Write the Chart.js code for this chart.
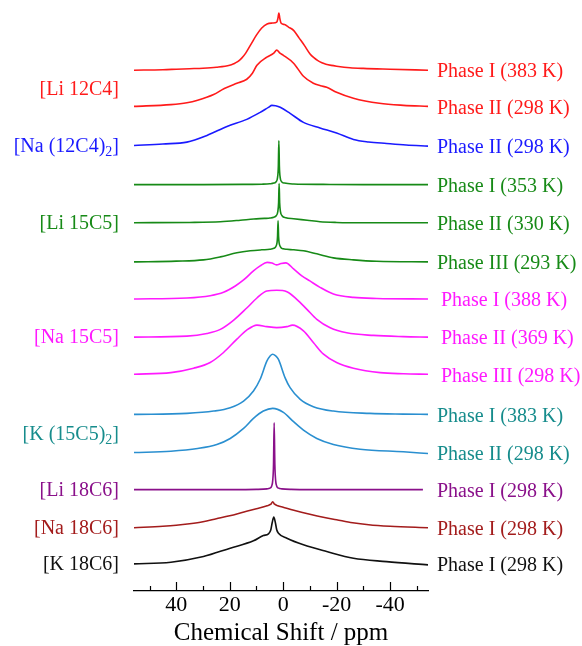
<!DOCTYPE html>
<html>
<head>
<meta charset="utf-8">
<script src="https://cdn.jsdelivr.net/npm/chart.js@4.4.1/dist/chart.umd.min.js"></script>
<style>
  body { margin: 0; background: #fff; }
</style>
</head>
<body>
<canvas id="nmrChart" width="582" height="646"></canvas>
<script>
// x axis ticks (ppm), labels only on multiples of 20
const tickValues = [50, 40, 30, 20, 10, 0, -10, -20, -30, -40, -50];

// sample groups (left labels) and spectra (right labels)
const groupNames = ['[Li 12C4]', '[Na (12C4)_2]', '[Li 15C5]', '[Na 15C5]', '[K (15C5)_2]', '[Li 18C6]', '[Na 18C6]', '[K 18C6]'];
const traceLabels = [
    'Phase I (383 K)', 'Phase II (298 K)',
    'Phase II (298 K)',
    'Phase I (353 K)', 'Phase II (330 K)', 'Phase III (293 K)',
    'Phase I (388 K)', 'Phase II (369 K)', 'Phase III (298 K)',
    'Phase I (383 K)', 'Phase II (298 K)',
    'Phase I (298 K)',
    'Phase I (298 K)',
    'Phase I (298 K)'
];
const traceGroup = [0, 0, 1, 2, 2, 2, 3, 3, 3, 4, 4, 5, 6, 7];
// vertical stacking offset of each spectrum
const offsets = [519, 483, 444, 405, 367, 328, 291, 253, 216, 176, 138, 101, 63, 27];

// spectra: chemical shift (ppm) and intensity
const li12c4_I_ppm = [55.8, 45, 40, 35, 30, 25, 20, 18.5, 17, 15.5, 14, 12, 10, 8, 6, 4, 2.4, 2.0, 1.6, 1.2, 0.8, -0.5, -2, -4, -6, -8, -10, -11.5, -13, -14.5, -16, -18, -20, -25, -30, -40, -54.2];
const li12c4_I_int = [0, 0.5, 1, 1.5, 2, 3, 5, 6.5, 8.5, 12, 17, 26, 35, 42, 46, 47, 48, 51, 57, 51, 47, 45.5, 43, 39.5, 32, 24.5, 16.5, 12.5, 9.5, 7.5, 6, 4.8, 4, 2.5, 1.8, 1, 0];

const li12c4_II_ppm = [55.8, 42, 36, 32, 26, 22, 17.3, 13.6, 11.5, 9.8, 6.1, 3.5, 2.4, 1.2, 0, -3.9, -7.6, -11.3, -14, -16.3, -20, -26.3, -36, -45, -54.2];
const li12c4_II_int = [0, 1.7, 3.5, 6, 11.7, 17.7, 23, 27, 33, 41, 49, 53, 56, 53, 51, 43, 30, 23, 20.5, 19, 14, 8, 3, 1, 0];

const na12c4_II_ppm = [55.8, 45, 36, 28.5, 21, 13.6, 8.6, 5.5, 4.2, 2.8, 1.1, -2.6, -7.6, -13.8, -20, -26.3, -32, -38.7, -46, -54.2];
const na12c4_II_int = [0, 1.5, 3.3, 10, 19, 26, 33, 38, 40, 39.5, 38, 32, 23, 17.5, 12.5, 6, 3.5, 2, 0.5, -0.7];

const li15c5_I_ppm = [55.8, 30, 15, 8, 5, 3.5, 2.6, 2.1, 1.8, 1.6, 1.4, 1.1, 0.6, -0.5, -4, -15, -30, -54.2];
const li15c5_I_int = [0, 0, 0.2, 0.4, 0.8, 1.5, 3, 7, 18, 44, 18, 7, 3, 1.5, 0.6, 0.2, 0, 0];

const li15c5_II_ppm = [55.8, 35, 23.5, 16, 11, 7, 4.9, 3.5, 2.6, 2.0, 1.7, 1.5, 1.3, 1.0, 0.4, -1, -3.9, -9, -13.8, -20, -30, -54.2];
const li15c5_II_int = [0, 0.3, 1, 2.5, 3.7, 4.3, 4.7, 5.5, 7, 11, 20, 39, 20, 11, 7, 5, 4, 2.5, 1, 0.3, 0, 0];

const li15c5_III_ppm = [55.8, 40, 29.8, 23.5, 17.3, 12.3, 8, 5, 3.5, 2.8, 2.3, 2.1, 1.9, 1.7, 1.5, 1.0, 0, -1.4, -4, -7.6, -12.6, -18.8, -26.3, -35, -54.2];
const li15c5_III_int = [0, 0.7, 2, 5, 9, 11, 12, 12.5, 13.5, 15, 19, 25, 41, 25, 19, 15, 13, 12.5, 12, 11, 8, 4, 2, 0.6, 0];

const na15c5_I_ppm = [55.8, 36, 27.3, 22.3, 17.9, 14.8, 11.1, 8.6, 6, 4.2, 2.5, 0.8, -1, -3.9, -7, -10, -13.8, -18.8, -26.3, -35, -54.2];
const na15c5_I_int = [0, 1, 3.3, 6.7, 13, 19, 28, 33, 36.5, 35.8, 34, 35.3, 36, 30, 23, 18, 11.6, 5, 1.6, 0.5, 0];

const na15c5_II_ppm = [55.8, 36, 28.5, 23.5, 18.6, 13.6, 9.8, 6.1, 2.4, -1.4, -5.1, -8.9, -12.6, -17.6, -23.8, -33.8, -45, -54.2];
const na15c5_II_int = [0, 1, 3.7, 7.7, 16.7, 29, 39, 46, 46.7, 45.3, 37.7, 27.7, 17.7, 9.3, 4.3, 1.7, 0.5, 0];

const na15c5_III_ppm = [55.8, 42, 33.5, 27.3, 22.3, 17.3, 13.6, 9.8, 6.1, 2.4, -1.4, -3.5, -7.6, -11.3, -15.1, -20, -26.3, -36.3, -45, -54.2];
const na15c5_III_int = [0, 1.6, 6, 11.7, 21.7, 35, 44, 49, 47.5, 46.5, 47.5, 49, 43.3, 31.7, 20, 11.7, 6, 1.6, 0.5, 0];

const k15c5_I_ppm = [55.8, 36, 26, 19.8, 14.8, 11.1, 8.6, 6.1, 4.8, 3.9, 2.9, 1.8, -0.7, -2.6, -6.4, -11.3, -18.8, -32.5, -45, -54.2];
const k15c5_I_int = [0, 1, 3.3, 6.7, 13.3, 23.3, 35, 53, 58.5, 60, 58.5, 55, 36.7, 26.7, 15, 7.7, 3.3, 1, 0.3, 0];

const k15c5_II_ppm = [55.8, 42, 32, 24.8, 19.8, 14.8, 11.1, 7.4, 3.9, -0.1, -3.9, -7.6, -12.6, -18.8, -28.8, -45, -54.2];
const k15c5_II_int = [0, 1.3, 4, 8, 14, 24, 34, 41.3, 44, 40, 30.7, 22.3, 14, 8, 3.3, 0.7, -1];

const li18c6_ppm = [55.8, 30, 10, 6, 5, 4.3, 3.9, 3.6, 3.36, 3.1, 2.8, 2.4, 1.7, 0.5, -3, -20, -52.3];
const li18c6_int = [0, 0, 0.3, 0.8, 1.5, 3.5, 9, 25, 66.6, 25, 9, 3.5, 1.5, 0.8, 0.3, 0, 0];

const na18c6_ppm = [55.8, 45, 40, 35, 30, 25, 20, 15, 10, 6, 4.6, 3.9, 3.2, 2, 0, -4, -10, -15, -20, -26, -32, -40, -54.2];
const na18c6_int = [0, 1.5, 2.5, 4, 6, 9, 12, 15.5, 19, 22, 23.5, 26, 23.5, 22, 20.5, 17.5, 13.5, 10.5, 8, 5, 3, 1.5, 0];

const k18c6_ppm = [55.8, 42, 29.8, 19.8, 11.1, 7.4, 5.5, 4.6, 4.1, 3.5, 2.9, 2.4, 1.75, -1.4, -7.6, -16.3, -26.3, -38.7, -54.2];
const k18c6_int = [0, 1.7, 7.3, 15.7, 23, 28.3, 30, 34, 41, 46.6, 41, 34, 30.6, 25.6, 19, 12.3, 5.6, 2.3, -1];

const spectra = [
    [li12c4_I_ppm, li12c4_I_int], [li12c4_II_ppm, li12c4_II_int],
    [na12c4_II_ppm, na12c4_II_int],
    [li15c5_I_ppm, li15c5_I_int], [li15c5_II_ppm, li15c5_II_int], [li15c5_III_ppm, li15c5_III_int],
    [na15c5_I_ppm, na15c5_I_int], [na15c5_II_ppm, na15c5_II_int], [na15c5_III_ppm, na15c5_III_int],
    [k15c5_I_ppm, k15c5_I_int], [k15c5_II_ppm, k15c5_II_int],
    [li18c6_ppm, li18c6_int],
    [na18c6_ppm, na18c6_int],
    [k18c6_ppm, k18c6_int]
];

// colours per group: line colour, label colour
const lineColors = ['#ff1a1a', '#1a1aff', '#178a17', '#ff1aff', '#2a8fd0', '#8a108a', '#a31c1c', '#111111'];
const textColors = ['#ff1a1a', '#1a1aff', '#178a17', '#ff1aff', '#168c8c', '#8a108a', '#a31c1c', '#111111'];
const rightIndent = [0, 0, 0, 4, 0, 0, 0, 0];

const serif = "'Liberation Serif', 'Times New Roman', serif";

let datasets = spectra.map(function(s, i) {
    let ppm = s[0], inten = s[1];
    return {
        label: traceLabels[i],
        data: ppm.map((p, k) => ({ x: p, y: offsets[i] + inten[k] })),
        borderColor: lineColors[traceGroup[i]],
        borderWidth: 1.6,
        pointRadius: 0,
        cubicInterpolationMode: 'monotone',
        fill: false
    };
});

// draw text with "_x" as subscript, right aligned at x
function drawSubText(ctx, str, x, y, size) {
    let parts = str.split(/_(\d)/);
    let widths = parts.map((p, i) => {
        ctx.font = (i % 2 ? size * 0.7 : size) + 'px ' + serif;
        return ctx.measureText(p).width;
    });
    let total = widths.reduce((a, b) => a + b, 0);
    let cx = x - total;
    parts.forEach((p, i) => {
        ctx.font = (i % 2 ? size * 0.7 : size) + 'px ' + serif;
        ctx.fillText(p, cx, i % 2 ? y + 6 : y);
        cx += widths[i];
    });
}

const stackLabels = {
    id: 'stackLabels',
    afterDraw(chart) {
        const ctx = chart.ctx;
        const xs = chart.scales.x, ys = chart.scales.y;
        const area = chart.chartArea;
        ctx.save();
        // inward tick marks
        ctx.strokeStyle = '#000';
        ctx.lineWidth = 1.2;
        tickValues.forEach(v => {
            let px = Math.round(xs.getPixelForValue(v)) + 0.5;
            let len = v % 20 === 0 ? 9 : 5;
            ctx.beginPath();
            ctx.moveTo(px, area.bottom);
            ctx.lineTo(px, area.bottom - len);
            ctx.stroke();
        });
        ctx.textBaseline = 'middle';
        // right labels
        ctx.textAlign = 'left';
        ctx.font = '20px ' + serif;
        traceLabels.forEach((t, i) => {
            let g = traceGroup[i];
            ctx.fillStyle = textColors[g];
            ctx.fillText(t, area.right + 9 + rightIndent[g], ys.getPixelForValue(offsets[i]) + 2);
        });
        // left group labels
        groupNames.forEach((name, g) => {
            let offs = offsets.filter((o, i) => traceGroup[i] === g);
            let mean = offs.reduce((a, b) => a + b, 0) / offs.length;
            ctx.fillStyle = textColors[g];
            drawSubText(ctx, name, area.left - 15, ys.getPixelForValue(mean) + 1, 20);
        });
        ctx.restore();
    }
};

new Chart(document.getElementById('nmrChart'), {
    type: 'line',
    data: { datasets: datasets },
    options: {
        responsive: false,
        animation: false,
        layout: { padding: { left: 134, right: 154, top: 10, bottom: 0 } },
        plugins: { legend: { display: false }, tooltip: { enabled: false } },
        scales: {
            x: {
                type: 'linear',
                reverse: true,
                min: -54.2,
                max: 55.8,
                afterBuildTicks: function(scale) {
                    scale.ticks = tickValues.map(v => ({ value: v }));
                },
                grid: { display: false, drawTicks: false, tickLength: 0 },
                border: { display: true, color: '#000', width: 1.3 },
                ticks: {
                    autoSkip: false,
                    maxRotation: 0,
                    padding: 3,
                    color: '#000',
                    font: { family: serif, size: 22, lineHeight: 1 },
                    callback: function(value) { return value % 20 === 0 ? value : ''; }
                },
                title: {
                    display: true,
                    text: 'Chemical Shift / ppm',
                    color: '#000',
                    font: { family: serif, size: 25, lineHeight: 1 },
                    padding: { top: 2, bottom: 0 }
                }
            },
            y: { display: false, min: 0, max: 579 }
        }
    },
    plugins: [stackLabels]
});
</script>
</body>
</html>
